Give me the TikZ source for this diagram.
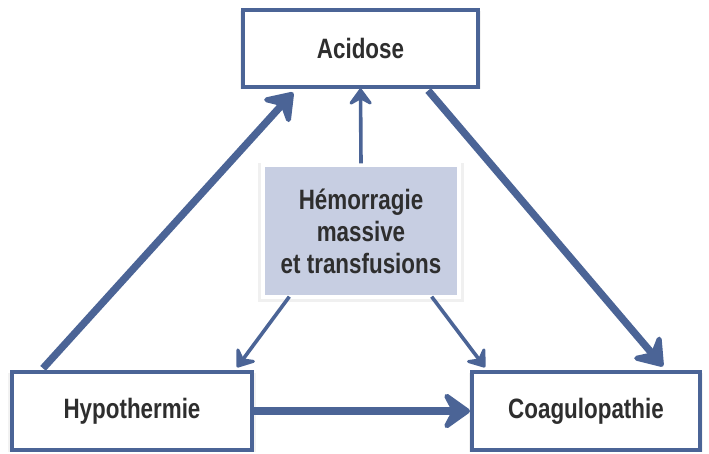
\documentclass[tikz,border=0pt]{standalone}
\usepackage{fontspec}
\newfontfamily\narrowsans[FakeStretch=0.8]{Liberation Sans}
\usepackage{tikz}
\usetikzlibrary{arrows.meta, calc, shadows}
\usepackage{xcolor}
\definecolor{trauma}{HTML}{4B6496}
\definecolor{hemofill}{HTML}{C7CEE2}
\definecolor{txt}{HTML}{2E2E2E}

\begin{document}
\begin{tikzpicture}[
  x=0.75pt, y=-0.75pt,
  box/.style={draw=trauma, line width=3pt, fill=white, text=txt,
              font=\narrowsans\bfseries\fontsize{21}{25}\selectfont,
              inner sep=0pt, drop shadow={opacity=0.1, shadow xshift=0pt, shadow yshift=-1pt, shadow scale=1.03}},
  centre/.style={draw=white, line width=2.5pt, fill=hemofill, text=txt, align=center,
              font=\narrowsans\bfseries\fontsize{21}{24}\selectfont,
              inner sep=0pt, drop shadow={opacity=0.12, shadow xshift=0pt, shadow yshift=-1pt, shadow scale=1.05}},
  bigarrow/.style={draw=trauma, line width=5.5pt,
              -{Stealth[round, length=24pt, width=34pt, inset=9pt]}},
  smallarrow/.style={draw=trauma, line width=2.7pt,
              -{Stealth[round, length=15pt, width=22pt, inset=6pt]}}
]
  \useasboundingbox (0,0) rectangle (709,453);

  \node[box, minimum width=176pt, minimum height=57pt] (acid) at (360.5,48.5) {Acidose};
  \node[centre, minimum width=147pt, minimum height=99pt] (hemo) at (361,231)
    {Hémorragie\\massive\\et transfusions};
  \node[box, minimum width=180pt, minimum height=58pt] (hypo) at (132,411) {Hypothermie};
  \node[box, minimum width=171pt, minimum height=58pt] (coag) at (586,411) {Coagulopathie};

  % grands cotes du triangle
  \draw[bigarrow] ($(hypo.north west)+(33,-2)$) -- ($(acid.south west)+(52,4)$);
  \draw[bigarrow] ($(acid.south west)+(187,2)$) -- ($(coag.north west)+(193,-4)$);
  \draw[bigarrow] (hypo.east) -- (coag.west);

  % depuis l'hemorragie
  \draw[smallarrow] (hemo.north) -- (acid.south);
  \draw[smallarrow] ($(hemo.south west)+(28,-2)$) -- ($(hypo.north east)+(-17,-3)$);
  \draw[smallarrow] ($(hemo.south east)+(-29,-2)$) -- ($(coag.north west)+(15,-3)$);
\end{tikzpicture}
\end{document}
